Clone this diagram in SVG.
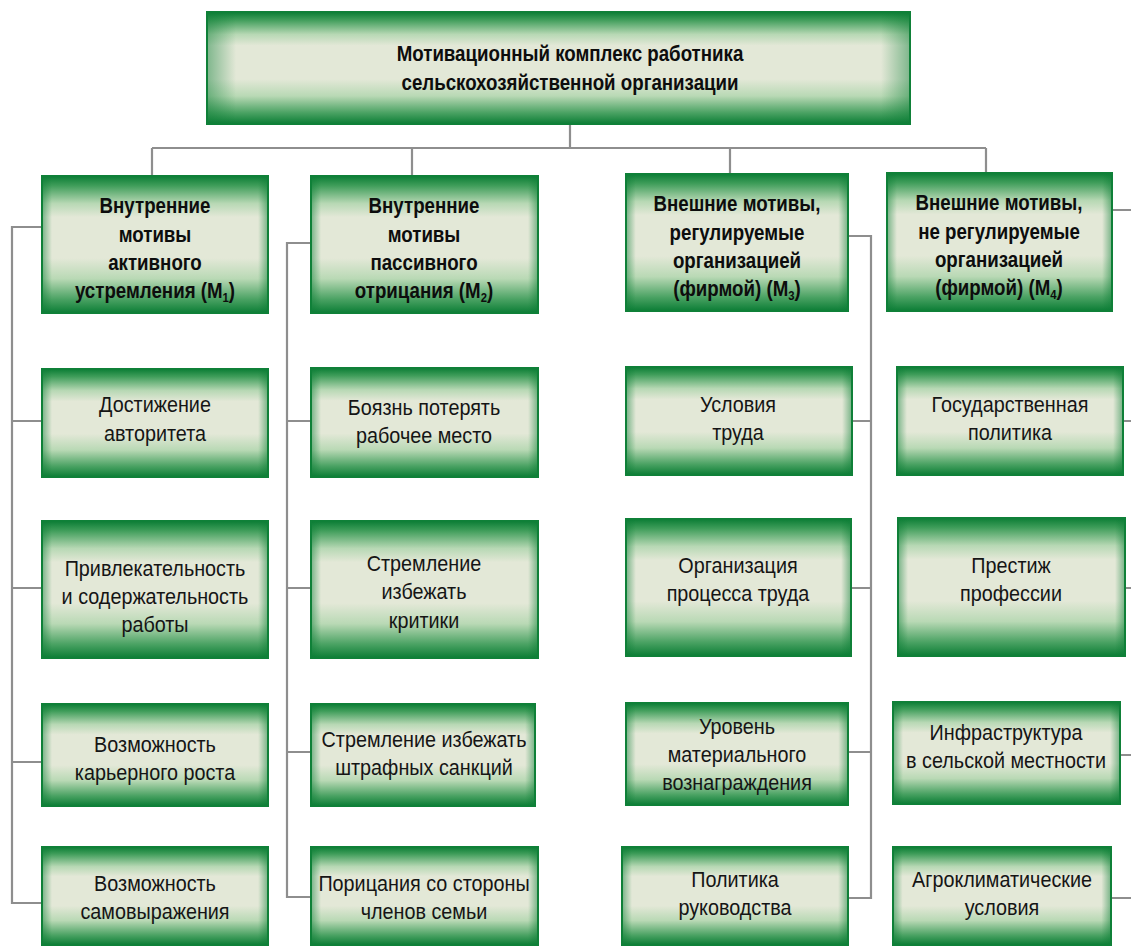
<svg xmlns="http://www.w3.org/2000/svg" width="1131" height="947" viewBox="0 0 1131 947">
<defs>
<linearGradient id="gv" x1="0" y1="0" x2="0" y2="1">
<stop offset="0" stop-color="#0b7d35"/>
<stop offset="0.07" stop-color="#3f9d5a"/>
<stop offset="0.2" stop-color="#b7d8b4"/>
<stop offset="0.3" stop-color="#e3e8d7"/>
<stop offset="0.6" stop-color="#e3e8d7"/>
<stop offset="0.75" stop-color="#b9d9b5"/>
<stop offset="0.9" stop-color="#4aa263"/>
<stop offset="1" stop-color="#0b7d35"/>
</linearGradient>
<linearGradient id="gh" x1="0" y1="0" x2="1" y2="0">
<stop offset="0" stop-color="#0b7d35" stop-opacity="0.45"/>
<stop offset="0.04" stop-color="#0b7d35" stop-opacity="0"/>
<stop offset="0.96" stop-color="#0b7d35" stop-opacity="0"/>
<stop offset="1" stop-color="#0b7d35" stop-opacity="0.45"/>
</linearGradient>
</defs>
<style>
.b{fill:url(#gv);stroke:#0f8038;stroke-width:2}
.o{fill:url(#gh)}
.t{font-family:"Liberation Sans",Arial,sans-serif;font-size:22px;fill:#151515;text-anchor:middle}
.h{font-family:"Liberation Sans",Arial,sans-serif;font-size:21.5px;font-weight:bold;fill:#0d0d0d;text-anchor:middle}
.s{font-size:13px}
.c{fill:none;stroke:#8e8e8e;stroke-width:2.2}
</style>
<g id="connectors" class="c">
<path d="M570,124 V148 M152,148 H986 M152,148 V176 M412,148 V176 M730,148 V174 M986,148 V173"/>
<path d="M42,227 H12 V903 H42 M12,421 H42 M12,588 H42 M12,762 H42"/>
<path d="M311,243 H287 V897 H311 M287,421 H311 M287,588 H311 M287,752 H311"/>
<path d="M848,236 H871 V898 H848 M853,421 H871 M851,588 H871 M848,752 H871"/>
<path d="M1112,210 H1131 M1123,421 H1131 M1125,588 H1131 M1120,755 H1131 M1111,898 H1131"/>
</g>
<g id="top"><rect class="b" x="207" y="12" width="703" height="112"/><rect class="o" x="208" y="13" width="701" height="110"/>
<g transform="translate(570 0) scale(0.87 1)"><text class="h" x="0" y="61">Мотивационный комплекс работника</text><text class="h" x="0" y="90">сельскохозяйственной организации</text></g></g>

<g id="m1"><rect class="b" x="42" y="176" width="226" height="137"/><rect class="o" x="43" y="177" width="224" height="135"/>
<g transform="translate(155 0) scale(0.87 1)"><text class="h" x="0" y="213">Внутренние</text><text class="h" x="0" y="242">мотивы</text><text class="h" x="0" y="270">активного</text><text class="h" x="0" y="298">устремления (М<tspan class="s" dy="4">1</tspan><tspan dy="-4">)</tspan></text></g></g>
<g id="m2"><rect class="b" x="311" y="176" width="227" height="137"/><rect class="o" x="312" y="177" width="225" height="135"/>
<g transform="translate(424 0) scale(0.87 1)"><text class="h" x="0" y="213">Внутренние</text><text class="h" x="0" y="242">мотивы</text><text class="h" x="0" y="270">пассивного</text><text class="h" x="0" y="298">отрицания (М<tspan class="s" dy="4">2</tspan><tspan dy="-4">)</tspan></text></g></g>
<g id="m3"><rect class="b" x="626" y="174" width="222" height="137"/><rect class="o" x="627" y="175" width="220" height="135"/>
<g transform="translate(737 0) scale(0.87 1)"><text class="h" x="0" y="211">Внешние мотивы,</text><text class="h" x="0" y="240">регулируемые</text><text class="h" x="0" y="268">организацией</text><text class="h" x="0" y="296">(фирмой) (М<tspan class="s" dy="4">3</tspan><tspan dy="-4">)</tspan></text></g></g>
<g id="m4"><rect class="b" x="887" y="173" width="225" height="138"/><rect class="o" x="888" y="174" width="223" height="136"/>
<g transform="translate(999 0) scale(0.87 1)"><text class="h" x="0" y="210">Внешние мотивы,</text><text class="h" x="0" y="239">не регулируемые</text><text class="h" x="0" y="267">организацией</text><text class="h" x="0" y="295">(фирмой) (М<tspan class="s" dy="4">4</tspan><tspan dy="-4">)</tspan></text></g></g>

<g id="n11"><rect class="b" x="42" y="369" width="226" height="108"/><rect class="o" x="43" y="370" width="224" height="106"/>
<g transform="translate(155 0) scale(0.9 1)"><text class="t" x="0" y="412">Достижение</text><text class="t" x="0" y="441">авторитета</text></g></g>
<g id="n12"><rect class="b" x="42" y="521" width="226" height="137"/><rect class="o" x="43" y="522" width="224" height="135"/>
<g transform="translate(155 0) scale(0.9 1)"><text class="t" x="0" y="576">Привлекательность</text><text class="t" x="0" y="604">и содержательность</text><text class="t" x="0" y="632">работы</text></g></g>
<g id="n13"><rect class="b" x="42" y="704" width="226" height="102"/><rect class="o" x="43" y="705" width="224" height="100"/>
<g transform="translate(155 0) scale(0.9 1)"><text class="t" x="0" y="752">Возможность</text><text class="t" x="0" y="780">карьерного роста</text></g></g>
<g id="n14"><rect class="b" x="42" y="847" width="226" height="98"/><rect class="o" x="43" y="848" width="224" height="96"/>
<g transform="translate(155 0) scale(0.9 1)"><text class="t" x="0" y="891">Возможность</text><text class="t" x="0" y="919">самовыражения</text></g></g>

<g id="n21"><rect class="b" x="311" y="368" width="227" height="109"/><rect class="o" x="312" y="369" width="225" height="107"/>
<g transform="translate(424 0) scale(0.9 1)"><text class="t" x="0" y="415">Боязнь потерять</text><text class="t" x="0" y="443">рабочее место</text></g></g>
<g id="n22"><rect class="b" x="311" y="521" width="227" height="137"/><rect class="o" x="312" y="522" width="225" height="135"/>
<g transform="translate(424 0) scale(0.9 1)"><text class="t" x="0" y="571">Стремление</text><text class="t" x="0" y="599">избежать</text><text class="t" x="0" y="628">критики</text></g></g>
<g id="n23"><rect class="b" x="311" y="704" width="224" height="102"/><rect class="o" x="312" y="705" width="222" height="100"/>
<g transform="translate(424 0) scale(0.9 1)"><text class="t" x="0" y="747">Стремление избежать</text><text class="t" x="0" y="775">штрафных санкций</text></g></g>
<g id="n24"><rect class="b" x="311" y="847" width="227" height="98"/><rect class="o" x="312" y="848" width="225" height="96"/>
<g transform="translate(424 0) scale(0.9 1)"><text class="t" x="0" y="891">Порицания со стороны</text><text class="t" x="0" y="919">членов семьи</text></g></g>

<g id="n31"><rect class="b" x="626" y="367" width="226" height="108"/><rect class="o" x="627" y="368" width="224" height="106"/>
<g transform="translate(738 0) scale(0.9 1)"><text class="t" x="0" y="412">Условия</text><text class="t" x="0" y="440">труда</text></g></g>
<g id="n32"><rect class="b" x="626" y="519" width="225" height="137"/><rect class="o" x="627" y="520" width="223" height="135"/>
<g transform="translate(738 0) scale(0.9 1)"><text class="t" x="0" y="573">Организация</text><text class="t" x="0" y="601">процесса труда</text></g></g>
<g id="n33"><rect class="b" x="626" y="703" width="222" height="102"/><rect class="o" x="627" y="704" width="220" height="100"/>
<g transform="translate(737 0) scale(0.9 1)"><text class="t" x="0" y="734">Уровень</text><text class="t" x="0" y="762">материального</text><text class="t" x="0" y="790">вознаграждения</text></g></g>
<g id="n34"><rect class="b" x="622" y="847" width="226" height="98"/><rect class="o" x="623" y="848" width="224" height="96"/>
<g transform="translate(735 0) scale(0.9 1)"><text class="t" x="0" y="887">Политика</text><text class="t" x="0" y="915">руководства</text></g></g>

<g id="n41"><rect class="b" x="897" y="367" width="226" height="108"/><rect class="o" x="898" y="368" width="224" height="106"/>
<g transform="translate(1010 0) scale(0.9 1)"><text class="t" x="0" y="412">Государственная</text><text class="t" x="0" y="440">политика</text></g></g>
<g id="n42"><rect class="b" x="898" y="518" width="227" height="138"/><rect class="o" x="899" y="519" width="225" height="136"/>
<g transform="translate(1011 0) scale(0.9 1)"><text class="t" x="0" y="573">Престиж</text><text class="t" x="0" y="601">профессии</text></g></g>
<g id="n43"><rect class="b" x="893" y="702" width="227" height="102"/><rect class="o" x="894" y="703" width="225" height="100"/>
<g transform="translate(1006 0) scale(0.9 1)"><text class="t" x="0" y="740">Инфраструктура</text><text class="t" x="0" y="768">в сельской местности</text></g></g>
<g id="n44"><rect class="b" x="893" y="847" width="218" height="98"/><rect class="o" x="894" y="848" width="216" height="96"/>
<g transform="translate(1002 0) scale(0.9 1)"><text class="t" x="0" y="887">Агроклиматические</text><text class="t" x="0" y="915">условия</text></g></g>
</svg>
